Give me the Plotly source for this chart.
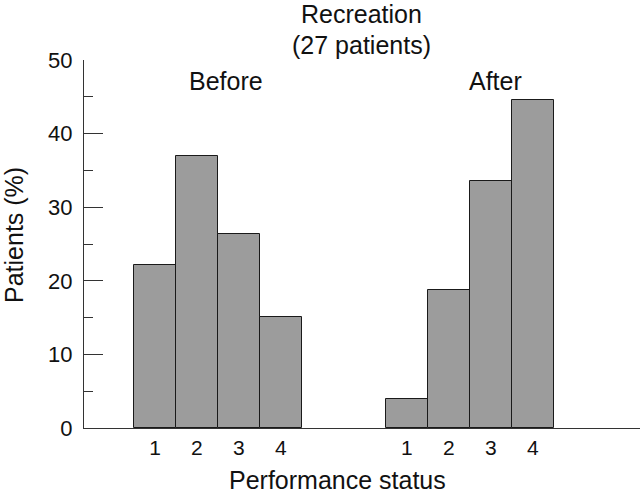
import plotly.graph_objects as go

status_labels = ["1", "2", "3", "4"]
before_pos = [1, 2, 3, 4]
after_pos = [7, 8, 9, 10]
before_pct = [22.2, 37.0, 26.3, 15.1]
after_pct = [3.9, 18.8, 33.6, 44.5]

FONT = "Liberation Sans, Arial, Helvetica, sans-serif"
TXT = "#111111"
AX = "#333333"
BAR = "#9c9c9c"

PL, PT, PW, PH = 84, 60, 556, 368  # plot area in window pixels


def px_x(v):
    return (v - PL) / PW


def px_y(v):
    return 1 - (v - PT) / PH


fig = go.Figure()
fig.add_trace(go.Bar(x=before_pos, y=before_pct, width=1,
                     marker=dict(color=BAR, line=dict(color="#1a1a1a", width=1)),
                     showlegend=False, hoverinfo="y"))
fig.add_trace(go.Bar(x=after_pos, y=after_pct, width=1,
                     marker=dict(color=BAR, line=dict(color="#1a1a1a", width=1)),
                     showlegend=False, hoverinfo="y"))


def note(text, x, y, xref="paper", yref="paper", angle=0, size=25):
    return dict(text=text, x=x, y=y, xref=xref, yref=yref,
                xanchor="center", yanchor="middle", showarrow=False, textangle=angle,
                font=dict(size=size, family=FONT, color=TXT))


fig.update_layout(
    width=640, height=494,
    margin=dict(l=84, r=0, t=60, b=66, autoexpand=False),
    paper_bgcolor="white", plot_bgcolor="white",
    bargap=0,
    font=dict(family=FONT, color=TXT, size=21),
    xaxis=dict(range=[-0.69, 12.55], showline=True, linecolor=AX, linewidth=1.2,
               showgrid=False, zeroline=False, ticks="",
               tickvals=before_pos + after_pos, ticktext=status_labels + status_labels,
               tickfont=dict(size=21, family=FONT, color=TXT), ticklabelstandoff=1),
    yaxis=dict(range=[0, 50], showline=True, linecolor=AX, linewidth=1.2,
               showgrid=False, zeroline=False,
               ticks="inside", ticklen=19, tickwidth=1.2, tickcolor=AX,
               tickvals=[0, 10, 20, 30, 40, 50],
               tickfont=dict(size=22, family=FONT, color=TXT), ticklabelstandoff=6,
               minor=dict(ticks="inside", ticklen=9, tickwidth=1.2, tickcolor=AX, dtick=5,
                          showgrid=False)),
    annotations=[
        note("Recreation", px_x(361), px_y(14)),
        note("(27 patients)", px_x(361), px_y(45)),
        note("Before", 2.69, 47.2, "x", "y"),
        note("After", 9.12, 47.2, "x", "y"),
        note("Performance status", px_x(337), px_y(480)),
        note("Patients (%)", px_x(14), px_y(235), angle=-90),
    ],
)

fig.write_html(
    "out.html",
    config={"displayModeBar": False},
    post_script="document.body.style.margin='0';document.body.style.overflow='hidden';",
)
